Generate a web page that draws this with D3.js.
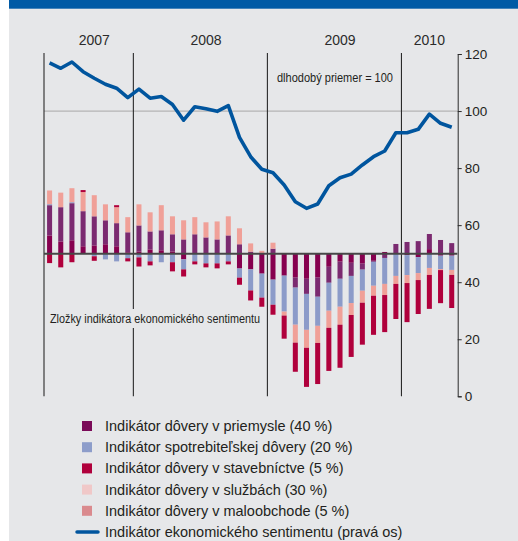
<!DOCTYPE html>
<html>
<head>
<meta charset="utf-8">
<script src="https://cdn.jsdelivr.net/npm/d3@7"></script>
<style>
  body { margin: 0; background: #fff; }
  svg { display: block; font-family: "Liberation Sans", Arial, sans-serif; }
</style>
</head>
<body>
<div id="chart"></div>
<script>
const months = [
    '2007-05', '2007-06', '2007-07', '2007-08', '2007-09', '2007-10', '2007-11', '2007-12',
    '2008-01', '2008-02', '2008-03', '2008-04', '2008-05', '2008-06', '2008-07', '2008-08',
    '2008-09', '2008-10', '2008-11', '2008-12',
    '2009-01', '2009-02', '2009-03', '2009-04', '2009-05', '2009-06', '2009-07', '2009-08',
    '2009-09', '2009-10', '2009-11', '2009-12',
    '2010-01', '2010-02', '2010-03', '2010-04', '2010-05'
];

// zlozky: odchylka od 50 na pravej osi
const priemysel = [6.4, 4.3, 4.7, 2.6, 2.9, 3.3, 2.6, 0.5, 0.8, 1.5, 1.2, 0.8, -2.0, 0, 0, 0, 0, -5.2, -5.5, -7.0,
    -9.1, -7.7, -8.4, -8.8, -8.4, -4.6, -2.8, -3.2, -3.5, -2.5, 0.6, 0, -0.5, -1.2, 1.6, -0.7, -0.7];
const spotrebitelia = [0.35, 0, 0.35, 0, -0.9, -2.0, -2.7, -1.6, -1.3, -2.7, -3.0, -3.0, -3.5, -2.7, -3.4, -3.4, -2.7, -3.2, -7.4, -8.4,
    -8.8, -12.6, -13.0, -12.6, -10.2, -9.8, -9.8, -9.5, -7.4, -8.4, -9.1, -7.8, -7.0, -5.6, -5.0, -4.7, -5.0];
const stavebnictvo = [-3.3, -4.8, -3.0, 0.7, -1.6, 0, 0.7, -1.1, -3.2, -1.4, 0, -3.2, -2.5, -1.05, -1.4, -1.75, -1.05, -2.5, -3.5, -3.2,
    -3.5, -8.1, -10.2, -13.7, -14.4, -15.1, -15.1, -14.7, -14.7, -13.7, -13.0, -12.3, -13.7, -11.9, -11.9, -11.6, -11.6];
const sluzby = [10.6, 12.0, 13.0, 12.3, 10.2, 8.4, 8.1, 7.0, 9.1, 6.3, 7.0, 6.0, 5.0, 6.8, 5.7, 5.0, 6.4, 3.3, 0.7, 0,
    1.75, 0, -3.5, -5.3, -6.7, -5.6, -6.0, -4.6, -2.1, -0.35, -1.5, 3.4, 4.1, 4.4, 5.3, 4.8, 3.7];
const maloobchod = [4.8, 5.1, 4.9, 6.7, 7.4, 5.6, 5.6, 5.3, 7.4, 6.7, 8.8, 6.3, 6.7, 6.0, 5.3, 6.3, 6.7, 5.6, 2.9, 1.0,
    2.1, -1.4, -6.3, -6.3, -6.0, -6.0, -6.3, -4.2, -4.2, -3.5, -3.9, -2.8, -2.8, -2.45, -2.45, -0.35, -1.75];

const sentiment = [116.9, 115.0, 117.2, 113.8, 111.5, 109.4, 108.0, 104.7, 107.7, 104.5, 105.1, 102.3, 96.8, 101.5, 100.8, 99.9,
    101.9, 90.8, 84.0, 79.6, 78.4, 74.1, 68.2, 65.9, 67.4, 73.8, 76.6, 77.9, 81.1, 84.0, 86.0, 92.4, 92.4, 93.6, 98.9, 95.7, 94.3];

const years = ['2007', '2008', '2009', '2010'];
const yearLabelMonths = ['2007-09', '2008-07', '2009-07', '2010-03'];
const yearStarts = ['2008-01', '2009-01', '2010-01'];
const yTicks = [0, 20, 40, 60, 80, 100, 120];

const legendLabels = [
    'Indikátor dôvery v priemysle (40 %)',
    'Indikátor spotrebiteľskej dôvery (20 %)',
    'Indikátor dôvery v stavebníctve (5 %)',
    'Indikátor dôvery v službách (30 %)',
    'Indikátor dôvery v maloobchode (5 %)',
    'Indikátor ekonomického sentimentu (pravá os)'
];

const width = 518;
const height = 541;
const bg = '#e6e7e9';
const blue = '#00559e';

const keys = ['priemysel', 'sluzby', 'spotrebitelia', 'maloobchod', 'stavebnictvo'];
const barColors = {
    priemysel: '#86004f',
    sluzby: '#7b2a70',
    spotrebitelia: '#8c9bc9',
    maloobchod: '#f0a098',
    stavebnictvo: '#b0003c'
};
const legendColors = ['#7a0a58', '#8d9dca', '#b0003c', '#f0c8c8', '#da8a8e'];

const table = months.map((m, i) => ({
    month: m,
    priemysel: priemysel[i],
    sluzby: sluzby[i],
    spotrebitelia: spotrebitelia[i],
    maloobchod: maloobchod[i],
    stavebnictvo: stavebnictvo[i]
}));

const x = d3.scaleBand()
.domain(months)
.range([44, 457.3])
.paddingInner(0.55)
.paddingOuter(0.275);

const y = d3.scaleLinear()
.domain([0, 120])
.range([396.3, 54]);

const half = x.step() * x.paddingInner() / 2;

const svg = d3.select('#chart')
.append('svg')
.attr('width', width)
.attr('height', height);

svg.append('rect')
.attr('x', 9)
.attr('y', 0)
.attr('width', width - 9)
.attr('height', height)
.attr('fill', bg);

svg.append('rect')
.attr('x', 9)
.attr('y', 0)
.attr('width', width - 9)
.attr('height', 8.7)
.attr('fill', '#005aa5');

// dlhodobý priemer
svg.append('line')
.attr('x1', x.range()[0])
.attr('x2', x.range()[1])
.attr('y1', y(100))
.attr('y2', y(100))
.attr('stroke', '#b4b4b4')
.attr('stroke-width', 1.2);

const yearLineX = [x.range()[0]].concat(yearStarts.map(m => x(m) - half));

svg.selectAll('.yearline')
.data(yearLineX)
.enter()
.append('line')
.attr('class', 'yearline')
.attr('x1', d => d)
.attr('x2', d => d)
.attr('y1', 53)
.attr('y2', y(0))
.attr('stroke', '#2a2a2a')
.attr('stroke-width', 1.1);

svg.append('rect')
.attr('x', 48)
.attr('y', 309)
.attr('width', 212)
.attr('height', 19)
.attr('fill', bg);

svg.append('text')
.attr('x', 50)
.attr('y', 322.5)
.attr('font-size', 12)
.attr('textLength', 210)
.attr('lengthAdjust', 'spacingAndGlyphs')
.attr('fill', '#231f20')
.text('Zložky indikátora ekonomického sentimentu');

svg.append('text')
.attr('x', 277)
.attr('y', 81.7)
.attr('font-size', 12)
.attr('textLength', 116)
.attr('lengthAdjust', 'spacingAndGlyphs')
.attr('fill', '#231f20')
.text('dlhodobý priemer = 100');

const series = d3.stack()
.keys(keys)
.offset(d3.stackOffsetDiverging)(table);

svg.append('g')
.selectAll('g')
.data(series)
.enter()
.append('g')
.attr('fill', d => barColors[d.key])
.selectAll('rect')
.data(d => d)
.enter()
.append('rect')
.attr('x', d => x(d.data.month))
.attr('width', x.bandwidth())
.attr('y', d => y(50 + Math.max(d[0], d[1])))
.attr('height', d => Math.abs(y(50 + d[0]) - y(50 + d[1])));

svg.append('line')
.attr('x1', x.range()[0])
.attr('x2', x.range()[1])
.attr('y1', y(50))
.attr('y2', y(50))
.attr('stroke', '#474747')
.attr('stroke-width', 2);

const line = d3.line()
.x((d, i) => x(months[i]) + x.bandwidth() / 2)
.y(d => y(d));

svg.append('path')
.datum(sentiment)
.attr('d', line)
.attr('fill', 'none')
.attr('stroke', blue)
.attr('stroke-width', 3.6)
.attr('stroke-linejoin', 'round');

const yAxis = d3.axisRight(y)
.tickValues(yTicks)
.tickSize(4)
.tickSizeOuter(4)
.tickPadding(3);

const gAxis = svg.append('g')
.attr('transform', `translate(${x.range()[1] + 0.4}, 0)`)
.call(yAxis);

gAxis.select('.domain').attr('stroke', '#2a2a2a');
gAxis.selectAll('.tick line').attr('stroke', '#2a2a2a');
gAxis.selectAll('.tick text')
.attr('font-size', 13.5)
.attr('font-family', '"Liberation Sans", Arial, sans-serif')
.attr('fill', '#231f20');

svg.selectAll('.year')
.data(years)
.enter()
.append('text')
.attr('class', 'year')
.attr('x', (d, i) => x(yearLabelMonths[i]) + x.bandwidth() / 2)
.attr('y', 45)
.attr('text-anchor', 'middle')
.attr('font-size', 14)
.attr('fill', '#2b2b2b')
.text(d => d);

const legend = svg.append('g');

const rows = legend.selectAll('g')
.data(legendLabels)
.enter()
.append('g')
.attr('transform', (d, i) => `translate(0, ${426 + i * 21.2})`);

rows.filter((d, i) => i < 5)
.append('rect')
.attr('x', 82)
.attr('y', -5)
.attr('width', 10)
.attr('height', 10)
.attr('fill', (d, i) => legendColors[i]);

rows.filter((d, i) => i === 5)
.append('line')
.attr('x1', 77)
.attr('x2', 98)
.attr('stroke', blue)
.attr('stroke-width', 3.5)
.attr('stroke-linecap', 'round');

rows.append('text')
.attr('x', 105)
.attr('y', 5)
.attr('font-size', 14.5)
.attr('fill', '#231f20')
.text(d => d);
</script>
</body>
</html>
